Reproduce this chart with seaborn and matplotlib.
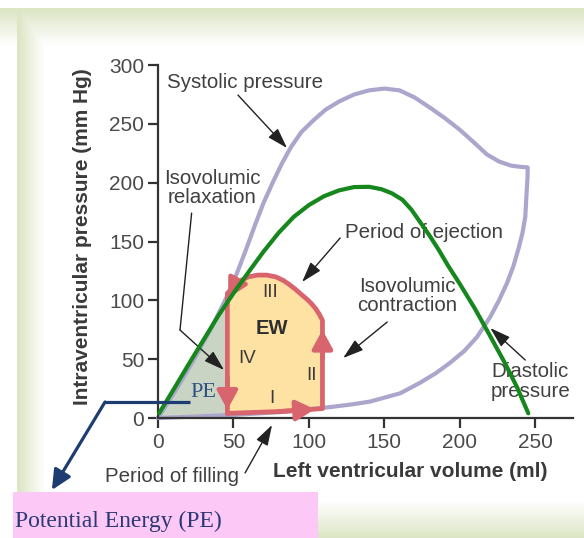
import numpy as np
import matplotlib
matplotlib.use('Agg')
import matplotlib.pyplot as plt
from matplotlib.patches import Rectangle
import seaborn as sns

sns.set_theme(style='white')
plt.rcParams['font.family'] = ['Liberation Sans', 'DejaVu Sans']

# outer envelope: systolic pressure curve on top, diastolic pressure on the bottom
envelope_vol = [0, 12, 24, 36, 46, 52, 58, 64, 70, 76, 82, 88, 95, 103, 111, 120, 130, 140, 150, 160, 170, 180,
                190, 200, 210, 218, 226, 234, 240, 245,
                244.9, 244, 243.4, 241.5, 238.7, 235.5, 231.4, 226, 220.2, 211.5, 203, 193.6, 184, 173.7, 160.5,
                140.6, 128, 114, 81, 48, 0]
envelope_pres = [0, 24, 50, 78, 104, 122, 142, 163, 183, 200, 216, 230, 243, 253, 262, 269, 275, 278.5, 280, 278.5,
                 272.5, 264, 255, 245, 233.5, 224, 218, 214.5, 213.5, 213,
                 205, 185, 171, 157, 143, 129, 115, 100, 86, 69, 57, 47, 38, 30, 21,
                 14, 11.5, 9.3, 5, 2.5, 0]

# green curve
green_vol = [0.7, 10, 20, 30, 40, 50, 60, 70, 80, 90, 100, 110, 120, 130, 140, 148, 155, 162, 168, 174, 180, 186,
             192, 200, 210, 220, 230, 238, 245.4]
green_pres = [4, 23.5, 45, 66, 87, 106, 124, 141.5, 157.5, 171, 181, 188.5, 193.5, 196.3, 196.5, 194.5, 191, 185.5,
              177, 166, 155, 143, 130, 114, 93, 70, 46.5, 26, 4]

# pressure-volume loop (I filling, II isovolumic contraction, III ejection, IV isovolumic relaxation)
loop_vol = [46, 80, 109, 109, 109, 107, 104.5, 101.5, 98.7, 95, 91, 87, 83, 78, 72, 66, 60, 55, 51, 48, 46, 46]
loop_pres = [4, 5.5, 8, 70, 83, 88, 93, 97.5, 101, 105, 109.5, 113.5, 117, 120, 121.5, 121.5, 120, 117, 112.5,
             108.5, 106, 4]

# potential energy triangle
pe_vol = [0, 12, 24, 36, 46, 46, 0]
pe_pres = [0, 24, 50, 78, 104, 2.5, 0]

x_ticks = [0, 50, 100, 150, 200, 250]
y_ticks = [0, 50, 100, 150, 200, 250, 300]

TEXT = '#404040'
LAVENDER = '#aba6cc'
GREEN = '#15871c'
RED = '#d8646d'
NAVY = '#1d3c72'


def main():
    fig = plt.figure(figsize=(5.84, 5.38), dpi=100)

    # slide-like background with greenish fading border
    bg = fig.add_axes([0, 0, 1, 1], zorder=0)
    h, w = 538, 584
    yy, xx = np.mgrid[0:h, 0:w]
    top = np.clip((45 - yy) / 37, 0, 1) * (yy >= 8)
    left = np.clip((45 - xx) / 28, 0, 1) * (xx >= 17) * (yy >= 8)
    bottom = np.clip((yy - 500) / 38, 0, 1) * (xx >= 17)
    k = np.maximum(np.maximum(top, left), bottom)[..., None]
    tint = np.array([220, 229, 196]) / 255
    bg.imshow(1 - k * (1 - tint), aspect='auto', extent=(0, 1, 0, 1), origin='upper')
    bg.axis('off')

    ax = fig.add_axes([0.2705, 0.2230, 0.7106, 0.6561], zorder=1)
    ax.patch.set_alpha(0)

    ax.fill(pe_vol, pe_pres, color='#c9d4c5', zorder=1, clip_on=False)
    ax.fill(loop_vol, loop_pres, color='#fde2a4', zorder=1, clip_on=False)
    sns.lineplot(x=envelope_vol, y=envelope_pres, sort=False, estimator=None, color=LAVENDER,
                 linewidth=3, zorder=2, ax=ax, clip_on=False)
    sns.lineplot(x=loop_vol, y=loop_pres, sort=False, estimator=None, color=RED,
                 linewidth=3.4, zorder=2.5, ax=ax, clip_on=False)

    # arrowheads on the loop
    red_arrow = dict(arrowstyle='-|>,head_length=0.7,head_width=0.38', color=RED, lw=3.4,
                     mutation_scale=16, shrinkA=0, shrinkB=0)
    ax.annotate('', xy=(loop_vol[2] - 5, loop_pres[2] - 0.5), xytext=(loop_vol[1], loop_pres[1]),
                arrowprops=red_arrow, zorder=2.6)
    ax.annotate('', xy=(loop_vol[3], loop_pres[3] + 5), xytext=(loop_vol[3], loop_pres[3] - 20),
                arrowprops=red_arrow, zorder=2.6)
    ax.annotate('', xy=(loop_vol[-1], loop_pres[-1] + 3), xytext=(loop_vol[-1], loop_pres[-1] + 30),
                arrowprops=red_arrow, zorder=2.6)
    ax.annotate('', xy=(loop_vol[-2] + 0.5, loop_pres[-2] - 4), xytext=(loop_vol[-4], loop_pres[-4]),
                arrowprops=red_arrow, zorder=2.6)

    sns.lineplot(x=green_vol, y=green_pres, sort=False, estimator=None, color=GREEN,
                 linewidth=3, zorder=4, ax=ax, clip_on=False)

    ax.set_xlim(0, 275)
    ax.set_ylim(0, 300)
    ax.set_xticks(x_ticks)
    ax.set_yticks(y_ticks)
    ax.spines[['top', 'right']].set_visible(False)
    for s in ['left', 'bottom']:
        ax.spines[s].set_color('#333333')
        ax.spines[s].set_linewidth(1.6)
    ax.tick_params(bottom=True, left=True, direction='out', length=7, width=1.6, color='#333333',
                   labelsize=15, labelcolor='#4a4a4a')
    ax.tick_params(axis='x', pad=4)
    ax.tick_params(axis='y', pad=3)

    ax.set_xlabel('Left ventricular volume (ml)', fontsize=15, fontweight='bold', color='#3a3a3a')
    ax.set_ylabel('Intraventricular pressure (mm Hg)', fontsize=15, fontweight='bold', color='#3a3a3a')
    ax.xaxis.set_label_coords(0.608, -0.125)
    ax.yaxis.set_label_coords(-0.16, 0.513)

    # labels and pointers
    tkw = dict(fontsize=14.8, color=TEXT, zorder=3, clip_on=False, linespacing=1.05)
    black_arrow = dict(arrowstyle='-|>,head_length=0.7,head_width=0.22', color='#222222', lw=1,
                       mutation_scale=18, shrinkA=0, shrinkB=0)
    ax.text(6, 285.5, 'Systolic pressure', ha='left', va='center', **tkw)
    ax.annotate('', xy=(85.5, 229.5), xytext=(53, 274.5), arrowprops=black_arrow, zorder=3)

    ax.text(35.8, 195.5, 'Isovolumic\nrelaxation', ha='center', va='center', **tkw)
    ax.plot([22.3, 14.6], [174.2, 74.8], color='#222222', lw=1, zorder=3)
    ax.annotate('', xy=(43.8, 40.8), xytext=(14.6, 74.8), arrowprops=black_arrow, zorder=3)

    ax.text(124, 157.5, 'Period of ejection', ha='left', va='center', **tkw)
    ax.annotate('', xy=(95.5, 115.6), xytext=(120.7, 153), arrowprops=black_arrow, zorder=3)

    ax.text(165, 103.7, 'Isovolumic\ncontraction', ha='center', va='center', **tkw)
    ax.annotate('', xy=(122.7, 51), xytext=(151.9, 81.6), arrowprops=black_arrow, zorder=3)

    ax.text(246.7, 31, 'Diastolic\npressure', ha='center', va='center', **tkw)
    ax.annotate('', xy=(220.2, 76.5), xytext=(243.4, 49.3), arrowprops=black_arrow, zorder=3)

    ax.text(9.3, -49.3, 'Period of filling', ha='center', va='center', **tkw)
    ax.annotate('', xy=(75.6, -5.9), xytext=(57.7, -46.7), arrowprops=black_arrow, zorder=3,
                annotation_clip=False)

    nkw = dict(fontsize=13.5, color='#3a3a3a', ha='center', va='center', zorder=3)
    ax.text(74, 107, 'III', **nkw)
    ax.text(75.5, 76.5, 'EW', fontsize=14.5, fontweight='bold', color='#2e2e2e', ha='center', va='center', zorder=3)
    ax.text(59, 51, 'IV', **nkw)
    ax.text(102, 36.5, 'II', **nkw)
    ax.text(75.5, 17, 'I', **nkw)

    ax.text(30, 22, 'PE', fontsize=16, family=['Liberation Serif'], color='#2f5283', ha='center',
            va='center', zorder=3)

    # potential energy pointer and caption box
    ax.plot([-35.1, 21.2], [13.6, 13.6], color=NAVY, lw=2.3, zorder=5, clip_on=False, solid_capstyle='butt')
    ax.annotate('', xy=(-70.3, -61.2), xytext=(-35.1, 13.6), annotation_clip=False, zorder=5,
                arrowprops=dict(arrowstyle='-|>,head_length=0.8,head_width=0.38', color=NAVY, lw=2.3,
                                mutation_scale=15, shrinkA=0, shrinkB=0))

    fig.add_artist(Rectangle((13 / 584, 0), 305 / 584, 46 / 538, transform=fig.transFigure,
                             facecolor='#fcc8f6', edgecolor='none', zorder=2))
    fig.text(15 / 584, (538 - 521) / 538, 'Potential Energy (PE)', fontsize=17, family=['Liberation Serif'],
             color='#2b3876', ha='left', va='center', zorder=3)

    fig.savefig('out.png', dpi=100)


if __name__ == '__main__':
    main()
